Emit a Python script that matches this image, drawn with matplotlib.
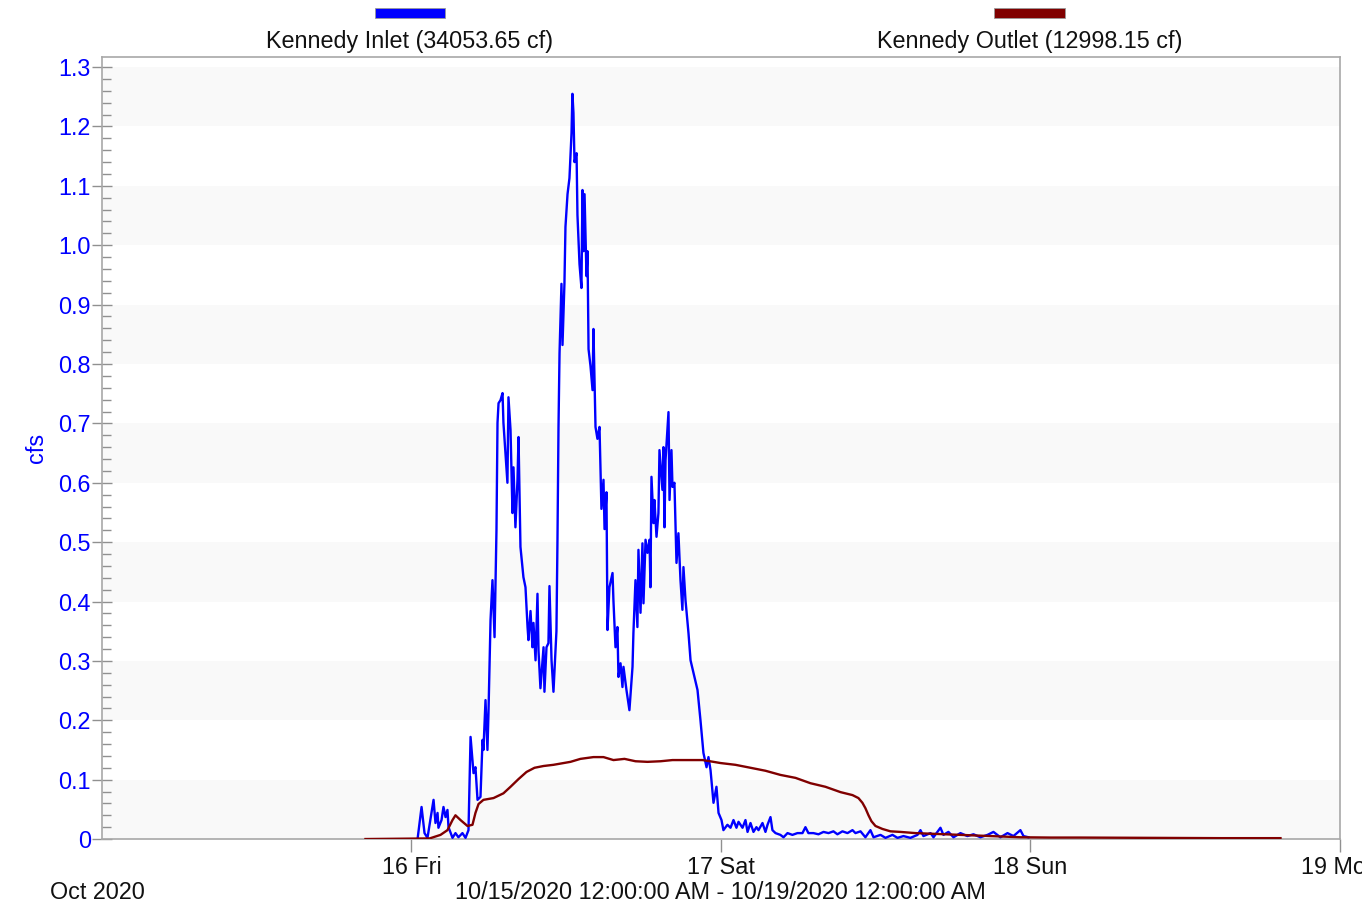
import numpy as np
import matplotlib
matplotlib.use('Agg')
import matplotlib.pyplot as plt
import matplotlib.dates as mdates
from matplotlib.ticker import MultipleLocator, FuncFormatter
from matplotlib.patches import Rectangle

plt.rcParams['font.family'] = ['Liberation Sans', 'DejaVu Sans']

# hours after 10/15/2020 00:00, flow in cfs
inlet_hours = [
    24.47, 24.78, 25.01, 25.24, 25.71, 25.86, 26.02, 26.09, 26.33, 26.48,
    26.64, 26.79, 26.87, 27.18, 27.41, 27.64, 27.95, 28.19, 28.42, 28.58,
    28.81, 28.96, 29.12, 29.35, 29.51, 29.58, 29.74, 29.89, 29.97, 30.13,
    30.28, 30.44, 30.59, 30.67, 30.75, 30.90, 31.06, 31.13, 31.29, 31.44,
    31.52, 31.68, 31.83, 31.91, 32.06, 32.22, 32.30, 32.45, 32.68, 32.84,
    33.00, 33.07, 33.23, 33.38, 33.46, 33.62, 33.77, 33.85, 34.00, 34.24,
    34.31, 34.47, 34.62, 34.70, 34.86, 35.01, 35.24, 35.32, 35.40, 35.48,
    35.63, 35.71, 35.86, 35.94, 36.10, 36.25, 36.41, 36.48, 36.56, 36.64,
    36.80, 36.87, 37.03, 37.18, 37.26, 37.34, 37.42, 37.57, 37.65, 37.73,
    37.88, 38.04, 38.11, 38.27, 38.42, 38.58, 38.73, 38.89, 38.97, 39.12,
    39.20, 39.35, 39.59, 39.66, 39.82, 39.97, 40.05, 40.21, 40.36, 40.44,
    40.67, 40.90, 41.14, 41.21, 41.37, 41.52, 41.60, 41.76, 41.91, 41.99,
    42.15, 42.30, 42.46, 42.53, 42.61, 42.77, 42.84, 43.00, 43.15, 43.23,
    43.46, 43.54, 43.62, 43.70, 43.93, 44.01, 44.16, 44.24, 44.39, 44.55,
    44.70, 44.86, 45.01, 45.09, 45.25, 45.48, 45.64, 45.87, 46.18, 46.41,
    46.64, 46.88, 47.03, 47.19, 47.42, 47.65, 47.81, 48.04, 48.19, 48.50,
    48.74, 48.97, 49.20, 49.36, 49.67, 49.90, 50.06, 50.29, 50.52, 50.75,
    50.91, 51.22, 51.45, 51.61, 51.84, 51.99, 52.23, 52.61, 52.85, 53.16,
    53.54, 53.93, 54.32, 54.55, 54.78, 55.17, 55.56, 55.95, 56.34, 56.72,
    57.03, 57.42, 57.81, 58.20, 58.43, 58.82, 59.20, 59.59, 59.83, 60.37,
    60.76, 61.30, 61.69, 62.15, 62.69, 63.24, 63.47, 63.70, 64.25, 64.48,
    65.02, 65.25, 65.64, 66.03, 66.57, 67.11, 67.58, 68.12, 68.67, 69.13,
    69.67, 70.22, 70.68, 71.22, 71.46, 71.84]
inlet_cfs = [
    0.0, 0.054, 0.010, 0.002, 0.066, 0.027, 0.044, 0.019, 0.032, 0.054,
    0.037, 0.049, 0.020, 0.002, 0.010, 0.003, 0.010, 0.002, 0.015, 0.172,
    0.111, 0.121, 0.066, 0.071, 0.167, 0.150, 0.234, 0.150, 0.212, 0.369,
    0.436, 0.340, 0.520, 0.701, 0.734, 0.739, 0.751, 0.701, 0.650, 0.600,
    0.744, 0.689, 0.549, 0.626, 0.525, 0.605, 0.677, 0.492, 0.441, 0.424,
    0.357, 0.335, 0.384, 0.323, 0.364, 0.301, 0.413, 0.317, 0.254, 0.323,
    0.248, 0.323, 0.330, 0.426, 0.301, 0.248, 0.350, 0.502, 0.694, 0.818,
    0.935, 0.832, 0.935, 1.031, 1.086, 1.113, 1.189, 1.255, 1.223, 1.140,
    1.155, 1.051, 0.968, 0.928, 1.093, 0.990, 1.086, 0.948, 0.990, 0.825,
    0.797, 0.756, 0.859, 0.694, 0.674, 0.694, 0.556, 0.605, 0.522, 0.584,
    0.352, 0.424, 0.448, 0.402, 0.323, 0.357, 0.273, 0.296, 0.256, 0.290,
    0.251, 0.217, 0.290, 0.347, 0.436, 0.357, 0.487, 0.381, 0.498, 0.397,
    0.504, 0.482, 0.504, 0.424, 0.610, 0.532, 0.571, 0.509, 0.549, 0.655,
    0.588, 0.660, 0.525, 0.638, 0.719, 0.571, 0.655, 0.593, 0.600, 0.465,
    0.515, 0.436, 0.386, 0.458, 0.402, 0.347, 0.301, 0.280, 0.251, 0.200,
    0.145, 0.121, 0.138, 0.116, 0.061, 0.088, 0.044, 0.032, 0.015, 0.024,
    0.019, 0.032, 0.019, 0.029, 0.019, 0.032, 0.012, 0.027, 0.012, 0.020,
    0.015, 0.027, 0.012, 0.024, 0.037, 0.015, 0.010, 0.007, 0.003, 0.010,
    0.007, 0.010, 0.010, 0.020, 0.010, 0.010, 0.008, 0.012, 0.010, 0.013,
    0.008, 0.013, 0.010, 0.015, 0.010, 0.013, 0.003, 0.015, 0.003, 0.007,
    0.002, 0.007, 0.002, 0.005, 0.002, 0.007, 0.015, 0.005, 0.010, 0.003,
    0.019, 0.007, 0.012, 0.003, 0.010, 0.005, 0.008, 0.003, 0.007, 0.012,
    0.003, 0.010, 0.005, 0.015, 0.005, 0.003]

outlet_hours = [
    20.43, 25.40, 26.25, 26.79, 27.18, 27.41, 27.80, 28.34, 28.73, 28.96,
    29.20, 29.58, 30.36, 31.13, 31.68, 32.30, 32.92, 33.54, 34.24, 35.01,
    36.33, 37.10, 38.11, 38.89, 39.66, 40.52, 41.37, 42.30, 43.31, 44.24,
    45.64, 46.57, 47.42, 47.96, 49.12, 50.29, 51.45, 52.61, 53.78, 54.94,
    56.10, 57.27, 58.20, 58.66, 58.97, 59.20, 59.44, 59.67, 59.98, 60.52,
    61.14, 61.92, 63.08, 64.25, 65.41, 66.57, 68.90, 71.22, 73.55, 75.80,
    81.31, 86.73, 91.39]
outlet_cfs = [
    0.0, 0.001, 0.007, 0.015, 0.032, 0.040, 0.032, 0.022, 0.024, 0.044,
    0.059, 0.066, 0.069, 0.077, 0.088, 0.101, 0.113, 0.120, 0.123, 0.125,
    0.130, 0.135, 0.138, 0.138, 0.133, 0.135, 0.131, 0.130, 0.131, 0.133,
    0.133, 0.133, 0.130, 0.128, 0.125, 0.120, 0.115, 0.108, 0.103, 0.094,
    0.088, 0.079, 0.074, 0.069, 0.061, 0.052, 0.040, 0.030, 0.022, 0.017,
    0.013, 0.012, 0.010, 0.009, 0.008, 0.007, 0.005, 0.003, 0.0025, 0.0025,
    0.002, 0.0015, 0.0015]

series_names = ['Kennedy Inlet (34053.65 cf)', 'Kennedy Outlet (12998.15 cf)']
series_colors = ['#0000ff', '#800000']
day_ticks = ['2020-10-16', '2020-10-17', '2020-10-18', '2020-10-19']

start = np.datetime64('2020-10-15T00:00:00')
end = np.datetime64('2020-10-19T00:00:00')


def to_time(hours):
    return start + (np.array(hours) * 3600).round().astype('timedelta64[s]')


fig = plt.figure(figsize=(13.62, 9.02), dpi=100)
ax = fig.add_axes([0.0749, 0.0698, 0.9089, 0.867])

# alternating light bands behind the data
for lo in np.arange(0, 1.3, 0.2):
    ax.axhspan(lo, lo + 0.1, color='#f9f9f9', lw=0, zorder=0)

ax.plot(to_time(inlet_hours), inlet_cfs, color=series_colors[0], lw=1.7, zorder=3)
ax.plot(to_time(outlet_hours), outlet_cfs, color=series_colors[1], lw=1.7, zorder=4)

ax.set_xlim(start, end)
ax.set_ylim(0, 1.317)

ax.set_xticks(np.array(day_ticks, dtype='datetime64[s]'))
ax.xaxis.set_major_formatter(mdates.DateFormatter('%d %a'))
ax.yaxis.set_major_locator(MultipleLocator(0.1))
ax.yaxis.set_minor_locator(MultipleLocator(0.02))
ax.yaxis.set_major_formatter(FuncFormatter(lambda v, p: '0' if abs(v) < 1e-9 else '%.1f' % v))

ax.tick_params(axis='x', direction='out', length=9, width=1, color='#909090',
               labelsize=16.8, labelcolor='#111111', pad=3)
ax.tick_params(axis='y', which='major', direction='inout', length=14, width=1,
               color='#909090', labelsize=16.8, labelcolor='#0000ff', pad=1)
ax.tick_params(axis='y', which='minor', direction='in', length=6.5, width=1,
               color='#909090')

for s in ax.spines.values():
    s.set_color('#a8a8a8')
    s.set_linewidth(1.2)

fig.text(0.027, 0.503, 'cfs', rotation=90, color='#0000ff', fontsize=16.8,
         ha='center', va='center')

# legend along the top
for cx, name, col in zip([0.301, 0.756], series_names, series_colors):
    fig.add_artist(Rectangle((cx - 0.026, 0.9795), 0.052, 0.0115, transform=fig.transFigure,
                             facecolor=col, edgecolor='#999999', lw=0.6))
    fig.text(cx, 0.9545, name, ha='center', va='center', fontsize=16.8, color='#111111')

fig.text(0.037, 0.011, 'Oct 2020', ha='left', va='center', fontsize=16.8, color='#111111')
fig.text(0.5286, 0.011, '10/15/2020 12:00:00 AM - 10/19/2020 12:00:00 AM',
         ha='center', va='center', fontsize=16.8, color='#111111')

fig.savefig('out.png', dpi=100)
